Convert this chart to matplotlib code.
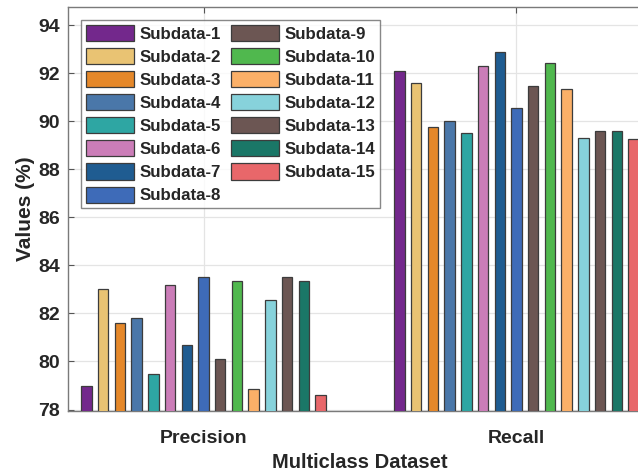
import numpy as np
import matplotlib
matplotlib.use("Agg")
import matplotlib.pyplot as plt

# Metric groups on the x axis
categories = ["Precision", "Recall"]

# One value per subset for each metric (%)
subsets = [f"Subdata-{i}" for i in range(1, 16)]
precision = [79.0, 83.0, 81.6, 81.8, 79.5, 83.2, 80.7, 83.5, 80.1, 83.35,
             78.87, 82.57, 83.5, 83.35, 78.6]
recall = [92.1, 91.6, 89.75, 90.0, 89.52, 92.3, 92.86, 90.56, 91.46, 92.42,
          91.35, 89.28, 89.58, 89.58, 89.27]

colors = ["#73288C", "#E9C373", "#E5882A", "#4A77A9", "#2EA6A3",
          "#CB7DB8", "#1F5C91", "#3E6BB8", "#6C5653", "#50B84E",
          "#FBB068", "#87D2DB", "#6C5653", "#1A7767", "#E8676A"]

yticks = list(range(78, 95, 2))

plt.rcParams["font.family"] = ["Liberation Sans", "DejaVu Sans"]
plt.rcParams["font.weight"] = "bold"

fig = plt.figure(figsize=(6.38, 4.75), dpi=100)
ax = fig.add_axes([68 / 638, 64 / 475, 584 / 638, 404 / 475])

group_x = np.arange(1, len(categories) + 1)
step = 0.0534
width = 0.0335
values = np.array([precision, recall])  # shape (groups, subsets)

for i, name in enumerate(subsets):
    offs = (i - (len(subsets) - 1) / 2) * step
    ax.bar(group_x + offs, values[:, i], width=width, color=colors[i],
           edgecolor="#3c3c3c", linewidth=0.9, label=name, zorder=3)

ax.set_xlim(0.567, 2.433)
ax.set_ylim(77.94, 94.75)
ax.set_xticks(group_x)
ax.set_xticklabels(categories)
ax.set_yticks(yticks)
ax.set_yticklabels([str(t) for t in yticks])

ax.grid(True, color="#e4e4e4", linewidth=0.9, zorder=0)
ax.set_axisbelow(True)

for s in ax.spines.values():
    s.set_color("#7a7a7a")
    s.set_linewidth(1.0)

ax.tick_params(axis="both", direction="in", length=4, width=0.8,
               color="#555555", labelsize=14, labelcolor="#262626",
               top=True, right=True)
ax.tick_params(axis="y", pad=6)
ax.tick_params(axis="x", pad=14)

ax.set_ylabel("Values (%)", fontsize=15, fontweight="bold",
              color="#262626", labelpad=2)
ax.set_xlabel("Multiclass Dataset", fontsize=14.5, fontweight="bold",
              color="#262626", labelpad=4)

leg = ax.legend(ncol=2, loc="upper left", bbox_to_anchor=(13 / 584, 1 - 13 / 404),
                fontsize=12.2, frameon=True, fancybox=False,
                handlelength=2.85, handleheight=1.08, handletextpad=0.3,
                labelspacing=0.37, columnspacing=0.6, borderpad=0.3,
                borderaxespad=0.0)
leg.get_frame().set_edgecolor("#6a6a6a")
leg.get_frame().set_linewidth(1.0)
for t in leg.get_texts():
    t.set_color("#262626")
    t.set_fontweight("bold")

fig.savefig("out.png", dpi=100)
